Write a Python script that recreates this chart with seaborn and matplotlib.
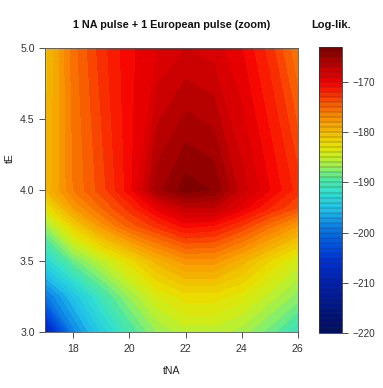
import numpy as np
import matplotlib
matplotlib.use("Agg")
import matplotlib.pyplot as plt
from matplotlib.colors import LinearSegmentedColormap, BoundaryNorm
import seaborn as sns

# ---- data ----
tna = [17, 18, 19, 20, 21, 22, 23, 24, 25, 26]
te = [3.0, 3.25, 3.5, 3.75, 3.875, 4.0, 5.0]
ll_te_3_000 = [-209.0, -198.5, -194.0, -190.0, -187.0, -185.5, -185.5, -186.5, -188.5, -191.0]
ll_te_3_250 = [-199.5, -195.0, -190.5, -187.0, -184.0, -182.5, -182.5, -183.5, -185.5, -187.5]
ll_te_3_500 = [-193.0, -188.5, -185.5, -182.5, -179.5, -177.5, -177.5, -179.5, -182.0, -184.5]
ll_te_3_750 = [-187.0, -181.5, -177.5, -174.5, -172.5, -170.5, -171.0, -173.0, -175.5, -178.0]
ll_te_3_875 = [-183.0, -178.0, -175.0, -172.5, -169.5, -167.0, -167.0, -169.5, -172.0, -174.0]
ll_te_4_000 = [-180.0, -176.0, -173.5, -170.5, -165.3, -163.5, -164.1, -167.5, -170.0, -172.5]
ll_te_5_000 = [-180.5, -175.5, -172.5, -170.3, -169.0, -168.0, -168.5, -170.0, -172.5, -176.0]
cbar_ticks = [-220, -210, -200, -190, -180, -170]
title = "1 NA pulse + 1 European pulse (zoom)"
cbar_title = "Log-lik."
xlabel = "tNA"
ylabel = "tE"

# ---- style ----
sns.set_theme(style="ticks")
plt.rcParams["font.family"] = ["Liberation Sans", "DejaVu Sans"]

W, H = 383, 388
fig = plt.figure(figsize=(W / 100, H / 100), dpi=100)

def fx(px):
    return px / W

def fy(py):
    return 1 - py / H

ax = fig.add_axes([fx(45.3), fy(331.7), fx(297.7) - fx(45.3), fy(47.7) - fy(331.7)])
cax = fig.add_axes([fx(319.3), fy(332.7), fx(342.3) - fx(319.3), fy(47.3) - fy(332.7)])

vmin, vmax = -220, -163
levels = np.arange(vmin, vmax + 1, 1)
anchors = [
    (-220, "#001060"), (-218, "#001070"), (-214, "#001890"), (-210, "#0020B0"),
    (-206, "#0030D0"), (-203, "#0050E0"), (-200, "#0870E0"), (-198, "#1090E8"),
    (-195.5, "#20C0E8"), (-192, "#30E0D0"), (-189.3, "#50E8A0"), (-187.3, "#90F060"),
    (-185, "#C8F020"), (-182.7, "#E8E000"), (-180.3, "#F0C000"), (-178, "#F8A000"),
    (-175.3, "#F87000"), (-172.7, "#F83800"), (-170.3, "#F80800"), (-169.3, "#E80000"),
    (-167.3, "#CC0000"), (-165.3, "#A80000"), (-163, "#800000"),
]
cmap = LinearSegmentedColormap.from_list(
    "ll", [((v - vmin) / (vmax - vmin), c) for v, c in anchors])
norm = BoundaryNorm(levels, cmap.N)

Z = np.array([ll_te_3_000, ll_te_3_250, ll_te_3_500, ll_te_3_750,
              ll_te_3_875, ll_te_4_000, ll_te_5_000])
X, Y = np.meshgrid(tna, te)
cs = ax.contourf(X, Y, Z, levels=levels, cmap=cmap, norm=norm)
cs.set_edgecolor("face")
cs.set_linewidth(0.3)

ax.set_xlim(17, 26)
ax.set_ylim(3.0, 5.0)
ax.set_xticks([18, 20, 22, 24, 26])
ax.set_yticks([3.0, 3.5, 4.0, 4.5, 5.0])
ax.set_yticklabels(["3.0", "3.5", "4.0", "4.5", "5.0"])
ax.tick_params(axis="both", direction="out", length=4.3, width=0.6,
               labelsize=7.6, colors="#333333")
ax.tick_params(axis="y", pad=3.4)
ax.tick_params(axis="x", pad=4.6)
for s in ax.spines.values():
    s.set_linewidth(0.6)
    s.set_color("#555555")

fig.text(fx(171.5), fy(370.7), xlabel, ha="center", va="center",
         fontsize=7.6, color="#222222")
fig.text(fx(10), fy(158), ylabel, ha="center", va="center",
         fontsize=7.6, color="#222222", rotation=90)

cb = fig.colorbar(cs, cax=cax, ticks=cbar_ticks, drawedges=True)
cb.minorticks_off()
cb.dividers.set_linewidth(0.35)
cb.dividers.set_color("#333333")
cb.dividers.set_alpha(0.7)
cb.outline.set_linewidth(0.6)
cb.outline.set_edgecolor("#333333")
cax.tick_params(direction="out", length=4.3, width=0.6, labelsize=7.2,
                colors="#333333", pad=3)
cb.set_ticklabels([f"\u2212{abs(t)}" for t in cbar_ticks])

fig.text(fx(171.5), fy(25), title, ha="center", va="center",
         fontsize=7.8, fontweight="bold", color="#111111")
fig.text(fx(330.8), fy(25), cbar_title, ha="center", va="center",
         fontsize=8, fontweight="bold", color="#111111")

fig.savefig("out.png", dpi=100, facecolor="white")
